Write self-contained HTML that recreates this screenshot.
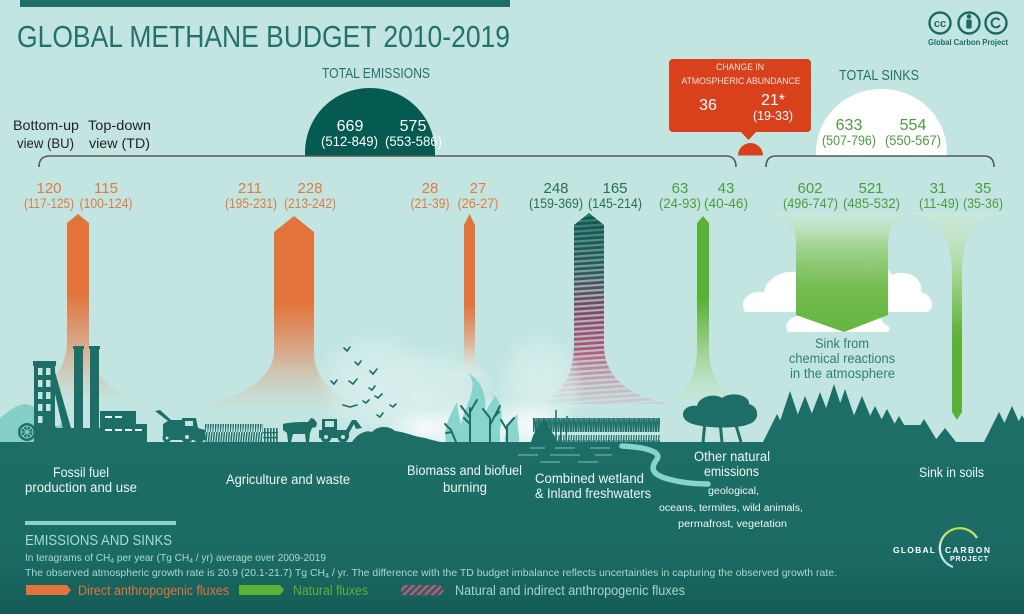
<!DOCTYPE html>
<html><head><meta charset="utf-8"><style>
html,body{margin:0;padding:0;background:#c3e5e2;}
svg{display:block;font-family:"Liberation Sans","DejaVu Sans",sans-serif;}
</style></head><body>
<svg width="1024" height="614" viewBox="0 0 1024 614" xmlns="http://www.w3.org/2000/svg">
<defs>
<linearGradient id="gFossil" gradientUnits="userSpaceOnUse" x1="0" y1="214" x2="0" y2="400">
<stop offset="0" stop-color="#e2733a"/><stop offset="0.42" stop-color="#e2733a"/><stop offset="0.72" stop-color="#d7ad8f"/><stop offset="1" stop-color="#c9dcd2" stop-opacity="0.4"/></linearGradient>
<linearGradient id="gAgri" gradientUnits="userSpaceOnUse" x1="0" y1="216" x2="0" y2="408">
<stop offset="0" stop-color="#e2733a"/><stop offset="0.45" stop-color="#e2733a"/><stop offset="0.72" stop-color="#d6ac8e"/><stop offset="1" stop-color="#c9dcd2" stop-opacity="0.4"/></linearGradient>
<linearGradient id="gBio" gradientUnits="userSpaceOnUse" x1="0" y1="214" x2="0" y2="378">
<stop offset="0" stop-color="#e2733a"/><stop offset="0.55" stop-color="#e2733a"/><stop offset="0.8" stop-color="#dcb79e"/><stop offset="1" stop-color="#e8f2ef" stop-opacity="0.3"/></linearGradient>
<linearGradient id="gWet" gradientUnits="userSpaceOnUse" x1="0" y1="213" x2="0" y2="405">
<stop offset="0" stop-color="#0b5a50"/><stop offset="0.3" stop-color="#2d5a5a"/><stop offset="0.5" stop-color="#7e4862"/><stop offset="0.72" stop-color="#b2587b"/><stop offset="1" stop-color="#d9a7b6" stop-opacity="0.35"/></linearGradient>
<linearGradient id="gStripeOp" gradientUnits="userSpaceOnUse" x1="0" y1="213" x2="0" y2="405">
<stop offset="0" stop-color="#fff" stop-opacity="0.25"/><stop offset="0.4" stop-color="#fff" stop-opacity="0.8"/><stop offset="1" stop-color="#fff" stop-opacity="1"/></linearGradient>
<mask id="mStripe"><rect x="530" y="205" width="150" height="205" fill="url(#gStripeOp)"/></mask>
<linearGradient id="gNat" gradientUnits="userSpaceOnUse" x1="0" y1="216" x2="0" y2="402">
<stop offset="0" stop-color="#5cb135"/><stop offset="0.45" stop-color="#5cb135"/><stop offset="0.75" stop-color="#a3d59a"/><stop offset="1" stop-color="#c9e8d0" stop-opacity="0.4"/></linearGradient>
<linearGradient id="gChem" gradientUnits="userSpaceOnUse" x1="0" y1="213" x2="0" y2="333">
<stop offset="0" stop-color="#d3ecd2" stop-opacity="0.4"/><stop offset="0.25" stop-color="#a3d590"/><stop offset="0.6" stop-color="#6fba4a"/><stop offset="1" stop-color="#5cb135"/></linearGradient>
<linearGradient id="gSoil" gradientUnits="userSpaceOnUse" x1="0" y1="213" x2="0" y2="420">
<stop offset="0" stop-color="#d3ecd2" stop-opacity="0.4"/><stop offset="0.3" stop-color="#a3d590"/><stop offset="0.6" stop-color="#5cb135"/><stop offset="1" stop-color="#5cb135"/></linearGradient>
<linearGradient id="gGround" x1="0" y1="0" x2="0" y2="1">
<stop offset="0" stop-color="#1c6e67"/><stop offset="0.65" stop-color="#1b6b64"/><stop offset="1" stop-color="#145c56"/></linearGradient>
<linearGradient id="gArc" x1="0" y1="0" x2="0" y2="1">
<stop offset="0" stop-color="#c9da4c"/><stop offset="0.5" stop-color="#d6eef0"/><stop offset="1" stop-color="#a9dff0"/></linearGradient>
<radialGradient id="gSmoke" cx="0.5" cy="0.5" r="0.5">
<stop offset="0" stop-color="#ffffff" stop-opacity="0.85"/><stop offset="0.6" stop-color="#f2faf9" stop-opacity="0.45"/><stop offset="1" stop-color="#e4f4f2" stop-opacity="0"/></radialGradient>
<radialGradient id="gHaze" cx="0.5" cy="0.5" r="0.5">
<stop offset="0" stop-color="#e2f3f1" stop-opacity="0.7"/><stop offset="0.7" stop-color="#daf0ed" stop-opacity="0.45"/><stop offset="1" stop-color="#d5eeeb" stop-opacity="0"/></radialGradient>
<pattern id="stripes" width="8" height="5" patternUnits="userSpaceOnUse" patternTransform="rotate(-4)">
<rect x="0" y="0" width="8" height="2.2" fill="#c3e5e2" opacity="0.8"/></pattern>
<pattern id="diag" width="5" height="5" patternUnits="userSpaceOnUse" patternTransform="rotate(45)">
<rect width="2.5" height="5" fill="#b45a7c"/></pattern>
<pattern id="grass" width="2.5" height="18" patternUnits="userSpaceOnUse">
<path d="M0,18 L2,0" stroke="#1c6e67" stroke-width="1.4"/></pattern>
<pattern id="grass2" width="2.5" height="24" patternUnits="userSpaceOnUse">
<path d="M0,24 L1.5,3 M1.2,24 L2.5,8" stroke="#1c6e67" stroke-width="1.2"/></pattern>
</defs>

<!-- background -->
<rect width="1024" height="614" fill="#c3e5e2"/>

<!-- top bar & title -->
<rect x="20" y="0" width="490" height="7" fill="#1c6e67"/>
<text x="17" y="47" font-size="31" fill="#23716b" textLength="493" lengthAdjust="spacingAndGlyphs">GLOBAL METHANE BUDGET 2010-2019</text>

<!-- CC logo -->
<g fill="none" stroke="#1c6b63" stroke-width="2.4">
<circle cx="940" cy="23" r="10.5"/><circle cx="969" cy="23" r="10.5"/><circle cx="996" cy="23" r="10.5"/>
<path d="M999.5,20 A4.5,4.5 0 1 0 1000,25" stroke-width="2"/>
</g>
<text x="940" y="27" font-size="11" font-weight="bold" fill="#1c6b63" text-anchor="middle">cc</text>
<circle cx="969" cy="16.5" r="2.3" fill="#1c6b63"/>
<rect x="966.3" y="19.5" width="5.4" height="9" rx="1" fill="#1c6b63"/>
<text x="928" y="45" font-size="8" font-weight="bold" fill="#1c6b63" textLength="80" lengthAdjust="spacingAndGlyphs">Global Carbon Project</text>

<!-- headings -->
<text x="376" y="78" font-size="14.5" fill="#23716b" text-anchor="middle" textLength="108" lengthAdjust="spacingAndGlyphs">TOTAL EMISSIONS</text>
<text x="879" y="80" font-size="14.5" fill="#23716b" text-anchor="middle" textLength="80" lengthAdjust="spacingAndGlyphs">TOTAL SINKS</text>

<!-- domes -->
<path d="M305,156 L305,153 C305,116 334,88 370,88 C406,88 435,116 435,153 L435,156 Z" fill="#055b51"/>
<text x="350" y="131" font-size="16" fill="#fff" text-anchor="middle">669</text>
<text x="349.5" y="146" font-size="13.5" fill="#fff" text-anchor="middle" textLength="57" lengthAdjust="spacingAndGlyphs">(512-849)</text>
<text x="413" y="131" font-size="16" fill="#fff" text-anchor="middle">575</text>
<text x="413.5" y="146" font-size="13.5" fill="#fff" text-anchor="middle" textLength="57" lengthAdjust="spacingAndGlyphs">(553-586)</text>

<path d="M816,156 L816,153 C816,117 845,89 881.5,89 C918,89 947,117 947,153 L947,156 Z" fill="#ffffff"/>
<text x="849" y="130" font-size="16" fill="#4d9c3c" text-anchor="middle">633</text>
<text x="849" y="145" font-size="13.5" fill="#4d9c3c" text-anchor="middle" textLength="54" lengthAdjust="spacingAndGlyphs">(507-796)</text>
<text x="913" y="130" font-size="16" fill="#4d9c3c" text-anchor="middle">554</text>
<text x="913" y="145" font-size="13.5" fill="#4d9c3c" text-anchor="middle" textLength="56" lengthAdjust="spacingAndGlyphs">(550-567)</text>

<!-- red box -->
<rect x="669" y="59" width="142" height="73" rx="4" fill="#d8411c"/>
<path d="M740,131 L757,131 L748.5,140 Z" fill="#d8411c"/>
<path d="M738,155.5 A12.5,12.5 0 0 1 763,155.5 Z" fill="#d8411c"/>
<text x="740" y="70" font-size="9" fill="#fbe3da" text-anchor="middle" textLength="48" lengthAdjust="spacingAndGlyphs">CHANGE IN</text>
<text x="741" y="84" font-size="9" fill="#fbe3da" text-anchor="middle" textLength="119" lengthAdjust="spacingAndGlyphs">ATMOSPHERIC ABUNDANCE</text>
<text x="708" y="110" font-size="16" fill="#fff" text-anchor="middle">36</text>
<text x="773" y="105" font-size="16" fill="#fff" text-anchor="middle">21*</text>
<text x="773" y="120" font-size="13" fill="#fff" text-anchor="middle" textLength="40" lengthAdjust="spacingAndGlyphs">(19-33)</text>

<!-- brackets -->
<g fill="none" stroke="#575757" stroke-width="1.6">
<path d="M39,167 C39,160 42,156 50,156 L726,156 C733,156 736,160 736,167"/>
<path d="M766,167 C766,160 769,156 776,156 L984,156 C991,156 994,160 994,167"/>
</g>

<!-- BU/TD labels -->
<g font-size="14" fill="#222">
<text x="13" y="130" textLength="66" lengthAdjust="spacingAndGlyphs">Bottom-up</text>
<text x="17" y="148" textLength="57" lengthAdjust="spacingAndGlyphs">view (BU)</text>
<text x="88" y="130" textLength="63" lengthAdjust="spacingAndGlyphs">Top-down</text>
<text x="89" y="148" textLength="61" lengthAdjust="spacingAndGlyphs">view  (TD)</text>
</g>

<!-- values -->
<g font-size="15" text-anchor="middle" fill="#e27a40">
<text x="49" y="193">120</text><text x="106" y="193">115</text>
<text x="250" y="193">211</text><text x="310" y="193">228</text>
<text x="430" y="193">28</text><text x="478" y="193">27</text>
</g>
<g font-size="13.5" text-anchor="middle" fill="#e27a40">
<text x="49" y="208" textLength="50" lengthAdjust="spacingAndGlyphs">(117-125)</text>
<text x="106" y="208" textLength="53" lengthAdjust="spacingAndGlyphs">(100-124)</text>
<text x="251" y="208" textLength="52" lengthAdjust="spacingAndGlyphs">(195-231)</text>
<text x="310" y="208" textLength="52" lengthAdjust="spacingAndGlyphs">(213-242)</text>
<text x="430" y="208" textLength="39" lengthAdjust="spacingAndGlyphs">(21-39)</text>
<text x="478" y="208" textLength="41" lengthAdjust="spacingAndGlyphs">(26-27)</text>
</g>
<g font-size="15" text-anchor="middle" fill="#2c6e50">
<text x="556" y="193">248</text><text x="615" y="193">165</text>
</g>
<g font-size="13.5" text-anchor="middle" fill="#2c6e50">
<text x="556" y="208" textLength="54" lengthAdjust="spacingAndGlyphs">(159-369)</text>
<text x="615" y="208" textLength="54" lengthAdjust="spacingAndGlyphs">(145-214)</text>
</g>
<g font-size="15" text-anchor="middle" fill="#4d9c3c">
<text x="680" y="193">63</text><text x="726" y="193">43</text>
<text x="810" y="193">602</text><text x="871" y="193">521</text>
<text x="938" y="193">31</text><text x="983" y="193">35</text>
</g>
<g font-size="13.5" text-anchor="middle" fill="#4d9c3c">
<text x="680" y="208" textLength="42" lengthAdjust="spacingAndGlyphs">(24-93)</text>
<text x="726" y="208" textLength="44" lengthAdjust="spacingAndGlyphs">(40-46)</text>
<text x="810.5" y="208" textLength="55" lengthAdjust="spacingAndGlyphs">(496-747)</text>
<text x="871.5" y="208" textLength="57" lengthAdjust="spacingAndGlyphs">(485-532)</text>
<text x="939" y="208" textLength="40" lengthAdjust="spacingAndGlyphs">(11-49)</text>
<text x="983" y="208" textLength="40" lengthAdjust="spacingAndGlyphs">(35-36)</text>
</g>

<!-- emission arrows -->
<path d="M67,223 L78,214 L89,223 L89,340 C89,372 108,390 135,398 L20,398 C47,390 67,372 67,340 Z" fill="url(#gFossil)"/>
<path d="M274,232 L294,216 L314,232 L314,352 C314,382 338,400 370,407 L197,407 C230,400 274,382 274,352 Z" fill="url(#gAgri)"/>
<path d="M464,225 L469.5,214 L475,225 L475,352 C475,366 481,372 492,377 L447,377 C458,372 464,366 464,352 Z" fill="url(#gBio)"/>
<path d="M574,225 L589,213 L604,225 L604,345 C604,378 630,397 670,404 L540,404 C558,397 574,378 574,345 Z" fill="url(#gWet)"/>
<path d="M574,225 L589,213 L604,225 L604,345 C604,378 630,397 670,404 L540,404 C558,397 574,378 574,345 Z" fill="url(#stripes)" mask="url(#mStripe)"/>
<path d="M697,223 L703,216 L709,223 L709,348 C709,378 722,394 746,401 L668,401 C684,394 697,378 697,348 Z" fill="url(#gNat)"/>

<!-- clouds -->
<g fill="#ffffff">
<path d="M745,312 C738,300 750,290 764,292 C766,276 790,266 806,275 C816,262 842,262 852,272 C862,258 886,262 892,275 C906,268 924,278 921,292 C934,295 936,312 925,312 Z"/>
<path d="M788,332 C782,322 794,313 808,316 C815,305 840,307 846,314 C860,306 882,314 884,324 C892,326 890,332 886,332 Z"/>
</g>

<!-- sink funnels -->
<path d="M758,213 C786,214 796,223 796,246 L796,315 L844,332 L888,315 L888,246 C888,224 898,214 912,213 Z" fill="url(#gChem)" opacity="0.95"/>
<path d="M905,213 C940,216 952,236 952,276 L952,412 L957,420 L962,412 L962,276 C962,236 975,216 1002,213 Z" fill="url(#gSoil)"/>
<g font-size="13.5" fill="#2f7f74" text-anchor="middle">
<text x="842" y="348" textLength="54" lengthAdjust="spacingAndGlyphs">Sink from</text>
<text x="842" y="363" textLength="106" lengthAdjust="spacingAndGlyphs">chemical reactions</text>
<text x="842.5" y="378" textLength="105" lengthAdjust="spacingAndGlyphs">in the atmosphere</text>
</g>

<!-- smoke (soft haze) -->
<ellipse cx="375" cy="385" rx="60" ry="55" fill="url(#gHaze)"/>
<ellipse cx="430" cy="400" rx="70" ry="55" fill="url(#gHaze)"/>
<ellipse cx="540" cy="390" rx="45" ry="60" fill="url(#gHaze)"/>
<ellipse cx="485" cy="428" rx="70" ry="32" fill="url(#gSmoke)"/>
<ellipse cx="425" cy="428" rx="40" ry="22" fill="url(#gSmoke)"/>
<ellipse cx="535" cy="425" rx="35" ry="28" fill="url(#gSmoke)"/>

<!-- hills -->
<path d="M0,442 L0,418 C10,410 18,404 25,404 C36,404 50,420 62,432 L70,442 Z" fill="#86cfc6"/>
<path d="M48,442 C52,430 58,424 64,424 C70,426 72,436 74,442 Z" fill="#86cfc6"/>

<!-- ground -->
<rect x="0" y="442" width="1024" height="172" fill="url(#gGround)"/>

<!-- factory -->
<g fill="#1c6e67">
<rect x="33" y="361" width="23" height="5"/>
<rect x="34" y="364" width="21" height="78"/>
<polygon points="50,372 55,372 75,442 66,442"/>
<rect x="73" y="346" width="11" height="3"/><rect x="74" y="346" width="9" height="96"/>
<rect x="89" y="346" width="11" height="3"/><rect x="90" y="346" width="9" height="96"/>
<rect x="55" y="428" width="50" height="14"/>
<rect x="100" y="411" width="36" height="31"/>
<rect x="136" y="424" width="11" height="18"/>
<circle cx="27" cy="432" r="9"/>
<circle cx="52" cy="434" r="8"/>
</g>
<g fill="#c3e5e2">
<rect x="38" y="368" width="4.5" height="7"/><rect x="46" y="368" width="4.5" height="7"/>
<rect x="38" y="380" width="4.5" height="7"/><rect x="46" y="380" width="4.5" height="7"/>
<rect x="38" y="392" width="4.5" height="7"/><rect x="46" y="392" width="4.5" height="7"/>
<rect x="38" y="404" width="4.5" height="7"/><rect x="46" y="404" width="4.5" height="7"/>
<rect x="38" y="416" width="4.5" height="7"/>
</g>
<g stroke="#86cfc6" stroke-width="1" fill="none">
<circle cx="27" cy="432" r="6"/><path d="M21,432 L33,432 M27,426 L27,438 M23,428 L31,436 M31,428 L23,436"/>
</g>
<g fill="#e8f5f3">
<rect x="105" y="416" width="7" height="2"/><rect x="115" y="416" width="7" height="2"/>
<rect x="105" y="429" width="7" height="2"/><rect x="115" y="429" width="7" height="2"/>
<rect x="125" y="429" width="7" height="2"/><rect x="135" y="429" width="7" height="2"/>
</g>

<!-- harvester -->
<g fill="#1c6e67">
<path d="M155,411 L160,410 L171,420 L182,420 L182,418 L196,418 L198,428 L205,430 L206,440 L163,440 L163,424 L168,421 Z"/>
<circle cx="167" cy="438" r="4.5"/><circle cx="187" cy="437" r="6"/><circle cx="199" cy="436" r="6.5"/>
</g>
<g fill="#c3e5e2"><circle cx="167" cy="438" r="1.5"/><circle cx="187" cy="437" r="2"/><rect x="185" y="421" width="8" height="5"/></g>
<rect x="205" y="424" width="58" height="18" fill="url(#grass)"/>
<g fill="#1c6e67">
<rect x="264" y="428" width="1.6" height="14"/><rect x="267" y="428" width="1.6" height="14"/><rect x="270" y="428" width="1.6" height="14"/><rect x="273" y="428" width="1.6" height="14"/><rect x="276" y="428" width="1.6" height="14"/>
<rect x="263" y="432" width="15" height="1.3"/><rect x="263" y="437" width="15" height="1.3"/>
<!-- cow -->
<path d="M283,424 C290,422 302,422 308,422 L311,418 L314,419 L317,423 L316,427 L312,428 L310,433 L309,442 L306,442 L305,434 L293,434 L291,442 L288,442 L287,433 L283,430 Z"/>
<!-- tractor -->
<rect x="322" y="419" width="15" height="12"/>
<rect x="319" y="430" width="30" height="8"/>
<path d="M345,432 L352,420 L356,420 L362,428 L356,429 L354,424 L349,433 Z"/>
<circle cx="326" cy="437" r="5.5"/><circle cx="343" cy="437" r="5.5"/>
<path d="M352,442 C358,433 366,430 372,432 C378,425 390,426 395,431 C405,432 412,436 425,438 C432,440 436,441 440,442 Z"/>
</g>
<g fill="#c3e5e2"><rect x="325" y="421" width="9" height="6"/><circle cx="326" cy="437" r="2"/><circle cx="343" cy="437" r="2"/></g>

<!-- birds -->
<g fill="none" stroke="#1c6e67" stroke-width="1.6" stroke-linecap="round">
<path d="M344,348 L347,351 L350,347"/><path d="M355,362 L358,365 L361,361"/>
<path d="M331,381 L334,384 L337,380"/><path d="M349,381 L353,384 L357,379"/>
<path d="M370,371 L373,374 L377,369"/><path d="M369,388 L372,390 L375,386"/>
<path d="M375,396 L378,398 L382,394"/><path d="M363,401 L366,403 L369,400"/>
<path d="M343,405 L350,407 L357,405"/><path d="M377,415 L380,417 L383,413"/>
<path d="M390,405 L393,407 L396,404"/>
</g>

<!-- fire -->
<g fill="#7fd2ca" opacity="0.9">
<path d="M462,442 C456,420 470,405 472,390 C474,381 471,377 468,373 C481,380 487,395 485,410 C484,425 491,433 489,442 Z"/>
<path d="M482,442 C478,425 485,410 494,398 C493,394 489,392 486,393 C499,392 504,410 501,425 C499,433 501,440 500,442 Z"/>
<path d="M446,442 C443,428 450,415 457,402 C458,415 463,427 462,442 Z"/>
<path d="M505,442 C504,432 510,420 518,414 C516,425 520,435 519,442 Z"/>
</g>
<g fill="none" stroke="#1c6e67" stroke-width="2" stroke-linecap="round">
<path d="M470,442 L470,408 M470,418 L461,406 M470,412 L477,400 M470,424 L464,418"/>
<path d="M490,442 L490,418 L483,409 M490,425 L500,406 M495,416 L499,412"/>
<path d="M507,442 L507,426 L514,418 M507,430 L501,420"/>
<path d="M456,442 L451,430 L445,424 M452,432 L446,433"/>
</g>

<!-- wetland -->
<rect x="533" y="418" width="127" height="24" fill="url(#grass2)"/>
<path d="M531,442 C534,432 538,425 545,419 C549,428 553,433 558,442 Z" fill="#1c6e67"/>
<g stroke="#1c6e67" stroke-width="1.5"><path d="M556,442 L556,410 M566,442 L567,416 M548,442 L546,422 M560,442 L562,420"/></g>
<g stroke="#5aa69e" stroke-width="1.5">
<path d="M530,448 L545,448 M555,448 L575,448 M590,448 L610,448"/>
<path d="M518,455 L538,455 M550,455 L580,455 M595,455 L612,455"/>
<path d="M540,462 L560,462 M578,462 L598,462"/>
</g>
<path d="M622,446 C645,447 662,452 657,459 C651,467 650,474 668,479 C682,483 695,484 708,484" fill="none" stroke="#86d4cb" stroke-width="5.5" stroke-linecap="round"/>

<!-- tree -->
<g fill="#1c6e67">
<path d="M688,422 C678,416 684,404 697,406 C699,396 715,393 722,398 C731,391 750,395 749,404 C760,407 760,421 749,424 C740,429 700,429 688,422 Z"/>
</g>
<g stroke="#1c6e67" stroke-width="3" fill="none"><path d="M705,422 L703,442 M720,422 L722,442 M735,422 L741,442"/></g>

<!-- forest -->
<g fill="#1c6e67">
<polygon points="763,442 777,414 791,442"/>
<polygon points="773,442 790,391 807,442"/>
<polygon points="787,442 805,396 823,442"/>
<polygon points="801,442 820,392 839,442"/>
<polygon points="815,442 834,384 853,442"/>
<polygon points="827,442 845,389 863,442"/>
<polygon points="843,442 862,396 881,442"/>
<polygon points="857,442 875,406 893,442"/>
<polygon points="870,442 887,409 904,442"/>
<polygon points="884,442 899,416 914,442"/>
<polygon points="896,442 909,427 922,442"/>
<polygon points="910,442 924,419 938,442"/>
<polygon points="934,442 945,428 956,442"/>
<polygon points="984,442 999,412 1014,442"/>
<polygon points="996,442 1012,406 1028,442"/>
<polygon points="1008,442 1022,415 1036,442"/>
<rect x="776" y="425" width="146" height="17"/>
</g>

<!-- ground labels -->
<g fill="#eef7f5" font-size="13.5" text-anchor="middle">
<text x="81" y="477" textLength="56" lengthAdjust="spacingAndGlyphs">Fossil fuel</text>
<text x="81" y="492" textLength="112" lengthAdjust="spacingAndGlyphs">production and use</text>
<text x="288" y="484" textLength="124" lengthAdjust="spacingAndGlyphs">Agriculture and waste</text>
<text x="464.5" y="475" textLength="115" lengthAdjust="spacingAndGlyphs">Biomass and biofuel</text>
<text x="465" y="492" textLength="44" lengthAdjust="spacingAndGlyphs">burning</text>
<text x="589.5" y="483" textLength="109" lengthAdjust="spacingAndGlyphs">Combined wetland</text>
<text x="593" y="498" textLength="116" lengthAdjust="spacingAndGlyphs">&amp; Inland freshwaters</text>
<text x="732" y="461" textLength="76" lengthAdjust="spacingAndGlyphs">Other natural</text>
<text x="731.5" y="476" textLength="55" lengthAdjust="spacingAndGlyphs">emissions</text>
<text x="951.5" y="477" textLength="65" lengthAdjust="spacingAndGlyphs">Sink in soils</text>
</g>
<g fill="#eef7f5" font-size="10" text-anchor="middle">
<text x="733.5" y="494" textLength="51" lengthAdjust="spacingAndGlyphs">geological,</text>
<text x="731" y="511" textLength="144" lengthAdjust="spacingAndGlyphs">oceans, termites, wild animals,</text>
<text x="732.5" y="527" textLength="109" lengthAdjust="spacingAndGlyphs">permafrost, vegetation</text>
</g>

<!-- bottom info -->
<rect x="25" y="521" width="151" height="4" fill="#86d4cb"/>
<text x="25" y="545" font-size="15" fill="#a6ddd5" textLength="147" lengthAdjust="spacingAndGlyphs">EMISSIONS AND SINKS</text>
<text x="25" y="561" font-size="10.5" fill="#a9d9d2" textLength="301" lengthAdjust="spacingAndGlyphs">In teragrams of CH<tspan font-size="7" dy="2">4</tspan><tspan dy="-2"> per year (Tg CH</tspan><tspan font-size="7" dy="2">4</tspan><tspan dy="-2"> / yr) average over 2009-2019</tspan></text>
<text x="25" y="576" font-size="10.5" fill="#a9d9d2" textLength="812" lengthAdjust="spacingAndGlyphs">The observed atmospheric growth rate is  20.9 (20.1-21.7) Tg CH<tspan font-size="7" dy="2">4</tspan><tspan dy="-2"> / yr. The difference with the TD budget imbalance reflects uncertainties in capturing the observed growth rate.</tspan></text>

<path d="M26,585 L67,585 L71,590 L67,595 L26,595 Z" fill="#e2733a"/>
<text x="78" y="595" font-size="13.5" fill="#e2733a" textLength="151" lengthAdjust="spacingAndGlyphs">Direct anthropogenic fluxes</text>
<path d="M239,585 L280,585 L284,590 L280,595 L239,595 Z" fill="#5cb135"/>
<text x="293" y="595" font-size="13.5" fill="#5cb135" textLength="75" lengthAdjust="spacingAndGlyphs">Natural fluxes</text>
<path d="M401,585 L440,585 L444,591 L440,597 L401,597 Z" fill="#2c5f5c"/>
<path d="M401,585 L440,585 L444,591 L440,595 L401,595 Z" fill="url(#diag)"/>
<text x="455" y="595" font-size="13.5" fill="#a9d3cd" textLength="230" lengthAdjust="spacingAndGlyphs">Natural and indirect anthropogenic  fluxes</text>

<!-- GCP logo -->
<path d="M977,538 A20,20 0 1 0 953,567" fill="none" stroke="url(#gArc)" stroke-width="2.2"/>
<g fill="#ffffff" font-weight="bold">
<text x="893" y="553" font-size="8.5" textLength="42" lengthAdjust="spacing">GLOBAL</text>
<text x="945" y="553" font-size="8.5" textLength="45" lengthAdjust="spacing">CARBON</text>
<text x="950" y="561" font-size="7" textLength="38" lengthAdjust="spacing">PROJECT</text>
</g>
</svg>
</body></html>
